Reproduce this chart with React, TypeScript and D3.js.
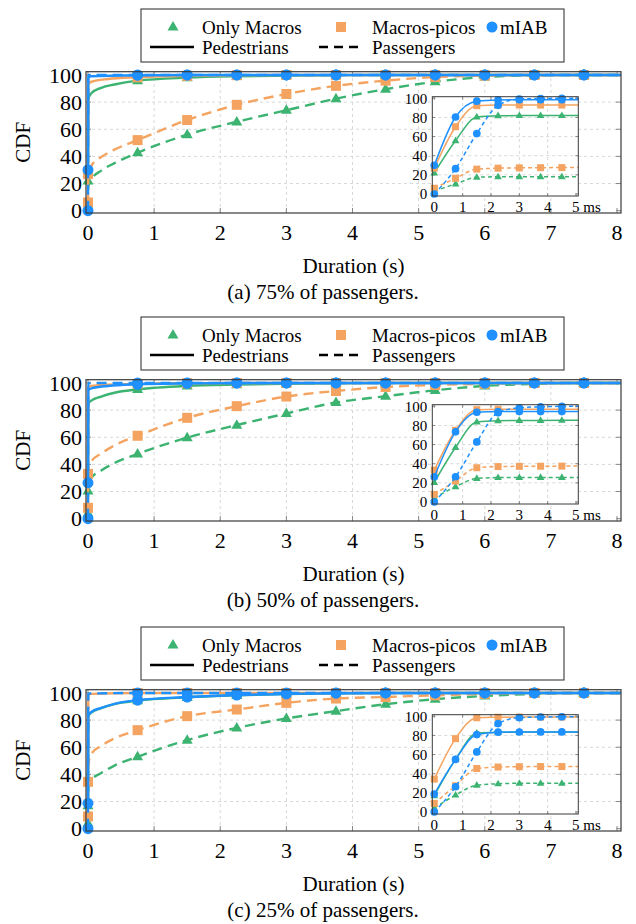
import React from 'react';
import * as d3 from 'd3';

type Pt = [number, number];

// ---------- tick / category data ----------
const markerTimesMain = [0, 0.75, 1.5, 2.25, 3, 3.75, 4.5, 5.25, 6, 6.75, 7.5];
const markerTimesInset = [0, 0.75, 1.5, 2.25, 3, 3.75, 4.5];
const mainXTicks = [0, 1, 2, 3, 4, 5, 6, 7, 8];
const mainYTicks = [0, 20, 40, 60, 80, 100];
const insetXTicks = [0, 1, 2, 3, 4, 5];
const insetXUnit = 'ms';
const insetYTicks = [0, 20, 40, 60, 80, 100];
const systems = ['Only Macros', 'Macros-picos', 'mIAB'];
const scenarios = ['Pedestrians', 'Passengers'];
const captions = ['(a) 75% of passengers.', '(b) 50% of passengers.', '(c) 25% of passengers.'];
const xLabel = 'Duration (s)';
const yLabel = 'CDF';

// ---------- (a) 75% passengers : main (s) ----------
const aMacrosPed: Pt[] = [[0, 22], [0.005, 82], [0.05, 86.5], [0.2, 90.5], [0.4, 93], [0.75, 95.8], [1.5, 98], [2.25, 99], [3, 99.5], [3.75, 99.8], [4.5, 100], [5.25, 100], [6, 100], [6.75, 100], [7.5, 100], [8.06, 100]];
const aMacrosPass: Pt[] = [[0, 3], [0.005, 18], [0.05, 23], [0.2, 29.5], [0.4, 35], [0.75, 42.7], [1.5, 56], [2.25, 65.5], [3, 74], [3.75, 82.5], [4.5, 89.5], [5.25, 95], [6, 98.5], [6.75, 99.7], [7.5, 100], [8.06, 100]];
const aPicosPed: Pt[] = [[0, 27], [0.005, 93], [0.05, 95], [0.3, 97], [0.75, 98.3], [1.5, 99.3], [2.25, 99.8], [3, 100], [3.75, 100], [4.5, 100], [5.25, 100], [6, 100], [6.75, 100], [7.5, 100], [8.06, 100]];
const aPicosPass: Pt[] = [[0, 6], [0.005, 27.5], [0.05, 33], [0.2, 39.5], [0.4, 45], [0.75, 52], [1.5, 66.8], [2.25, 78], [3, 86], [3.75, 92], [4.5, 95.8], [5.25, 98.5], [6, 99.5], [6.75, 100], [7.5, 100], [8.06, 100]];
const aMiabPed: Pt[] = [[0, 30], [0.005, 98.5], [0.05, 99], [0.75, 99.8], [1.5, 100], [2.25, 100], [3, 100], [3.75, 100], [4.5, 100], [5.25, 100], [6, 100], [6.75, 100], [7.5, 100], [8.06, 100]];
const aMiabPass: Pt[] = [[0, 0], [0.005, 100], [0.75, 100], [1.5, 100], [2.25, 100], [3, 100], [3.75, 100], [4.5, 100], [5.25, 100], [6, 100], [6.75, 100], [7.5, 100], [8.06, 100]];
// ---------- (a) inset (ms) ----------
const aInMacrosPed: Pt[] = [[0, 22], [0.75, 55.7], [1.5, 80.5], [2.25, 81.8], [3, 82], [3.75, 82], [4.5, 82], [5.08, 82]];
const aInMacrosPass: Pt[] = [[0, 3], [0.75, 10.5], [1.5, 17.5], [2.25, 18], [3, 18], [3.75, 18], [4.5, 18], [5.08, 18]];
const aInPicosPed: Pt[] = [[0, 27], [0.75, 70.3], [1.5, 92.3], [2.25, 93], [3, 93], [3.75, 93], [4.5, 93], [5.08, 93]];
const aInPicosPass: Pt[] = [[0, 6], [0.75, 16.4], [1.5, 26], [2.25, 27], [3, 27.3], [3.75, 27.5], [4.5, 27.6], [5.08, 27.6]];
const aInMiabPed: Pt[] = [[0, 30], [0.75, 80.5], [1.5, 97], [2.25, 98.3], [3, 98.5], [3.75, 98.5], [4.5, 98.5], [5.08, 98.5]];
const aInMiabPass: Pt[] = [[0, 0], [0.75, 26.5], [1.5, 63.2], [2.25, 92.7], [3, 99.3], [3.75, 99.8], [4.5, 100], [5.08, 100]];

// ---------- (b) 50% passengers : main (s) ----------
const bMacrosPed: Pt[] = [[0, 20.5], [0.005, 85], [0.05, 87], [0.2, 90], [0.4, 92.8], [0.75, 95.2], [1.5, 97.8], [2.25, 98.8], [3, 99.4], [3.75, 99.8], [4.5, 100], [5.25, 100], [6, 100], [6.75, 100], [7.5, 100], [8.06, 100]];
const bMacrosPass: Pt[] = [[0, 4], [0.005, 25.5], [0.05, 30], [0.2, 35.5], [0.4, 41], [0.75, 47.7], [1.5, 59.7], [2.25, 69], [3, 77.5], [3.75, 85.6], [4.5, 90.2], [5.25, 94.6], [6, 97.8], [6.75, 99.3], [7.5, 100], [8.06, 100]];
const bPicosPed: Pt[] = [[0, 33], [0.005, 97], [0.05, 97.8], [0.75, 99.3], [1.5, 99.8], [2.25, 100], [3, 100], [3.75, 100], [4.5, 100], [5.25, 100], [6, 100], [6.75, 100], [7.5, 100], [8.06, 100]];
const bPicosPass: Pt[] = [[0, 8], [0.005, 37.5], [0.05, 42], [0.2, 48], [0.4, 54], [0.75, 61.1], [1.5, 74.3], [2.25, 82.9], [3, 90], [3.75, 94.1], [4.5, 97], [5.25, 98.5], [6, 99.4], [6.75, 100], [7.5, 100], [8.06, 100]];
const bMiabPed: Pt[] = [[0, 26.4], [0.005, 94.5], [0.05, 96], [0.3, 97.8], [0.75, 99], [1.5, 99.7], [2.25, 100], [3, 100], [3.75, 100], [4.5, 100], [5.25, 100], [6, 100], [6.75, 100], [7.5, 100], [8.06, 100]];
const bMiabPass: Pt[] = [[0, 0], [0.005, 100], [0.75, 100], [1.5, 100], [2.25, 100], [3, 100], [3.75, 100], [4.5, 100], [5.25, 100], [6, 100], [6.75, 100], [7.5, 100], [8.06, 100]];
// ---------- (b) inset (ms) ----------
const bInMacrosPed: Pt[] = [[0, 20.5], [0.75, 57], [1.5, 83.7], [2.25, 85], [3, 85.2], [3.75, 85.3], [4.5, 85.4], [5.08, 85.4]];
const bInMacrosPass: Pt[] = [[0, 4], [0.75, 16], [1.5, 24.6], [2.25, 25.5], [3, 25.6], [3.75, 25.7], [4.5, 25.7], [5.08, 25.7]];
const bInPicosPed: Pt[] = [[0, 33.3], [0.75, 75], [1.5, 96.5], [2.25, 97], [3, 97], [3.75, 97], [4.5, 97], [5.08, 97]];
const bInPicosPass: Pt[] = [[0, 8], [0.75, 21.9], [1.5, 35.8], [2.25, 37], [3, 37.3], [3.75, 37.4], [4.5, 37.5], [5.08, 37.5]];
const bInMiabPed: Pt[] = [[0, 26.4], [0.75, 73.3], [1.5, 93.8], [2.25, 94.5], [3, 94.5], [3.75, 94.5], [4.5, 94.5], [5.08, 94.5]];
const bInMiabPass: Pt[] = [[0, 0], [0.75, 26.4], [1.5, 62.8], [2.25, 93.4], [3, 98.5], [3.75, 99.5], [4.5, 100], [5.08, 100]];

// ---------- (c) 25% passengers : main (s) ----------
const cMacrosPed: Pt[] = [[0, 17], [0.005, 83], [0.05, 85.5], [0.2, 88.8], [0.4, 91.8], [0.75, 94.3], [1.5, 96.8], [2.25, 98.3], [3, 99.2], [3.75, 99.7], [4.5, 100], [5.25, 100], [6, 100], [6.75, 100], [7.5, 100], [8.06, 100]];
const cMacrosPass: Pt[] = [[0, 4], [0.005, 30], [0.05, 36], [0.2, 41], [0.4, 46.5], [0.75, 53], [1.5, 65.3], [2.25, 74.3], [3, 81.2], [3.75, 86.6], [4.5, 91.7], [5.25, 95.4], [6, 97.8], [6.75, 99.3], [7.5, 100], [8.06, 100]];
const cPicosPed: Pt[] = [[0, 34.5], [0.005, 99], [0.05, 99.3], [0.75, 100], [1.5, 100], [2.25, 100], [3, 100], [3.75, 100], [4.5, 100], [5.25, 100], [6, 100], [6.75, 100], [7.5, 100], [8.06, 100]];
const cPicosPass: Pt[] = [[0, 9], [0.005, 47.5], [0.05, 55], [0.2, 61], [0.4, 66.5], [0.75, 72.6], [1.5, 82.9], [2.25, 87.8], [3, 92.7], [3.75, 95.9], [4.5, 97], [5.25, 98.3], [6, 99.3], [6.75, 100], [7.5, 100], [8.06, 100]];
const cMiabPed: Pt[] = [[0, 18.7], [0.005, 83.5], [0.05, 86], [0.2, 89], [0.4, 92], [0.75, 94.7], [1.5, 97], [2.25, 98.5], [3, 99.3], [3.75, 99.8], [4.5, 100], [5.25, 100], [6, 100], [6.75, 100], [7.5, 100], [8.06, 100]];
const cMiabPass: Pt[] = [[0, 0], [0.005, 99.5], [0.75, 100], [1.5, 100], [2.25, 100], [3, 100], [3.75, 100], [4.5, 100], [5.25, 100], [6, 100], [6.75, 100], [7.5, 100], [8.06, 100]];
// ---------- (c) inset (ms) ----------
const cInMacrosPed: Pt[] = [[0, 17], [0.75, 55], [1.5, 82.5], [2.25, 83.3], [3, 83.5], [3.75, 83.5], [4.5, 83.5], [5.08, 83.5]];
const cInMacrosPass: Pt[] = [[0, 4], [0.75, 17.7], [1.5, 28], [2.25, 29.5], [3, 30], [3.75, 30], [4.5, 30], [5.08, 30]];
const cInPicosPed: Pt[] = [[0, 34.4], [0.75, 76.7], [1.5, 98.5], [2.25, 99], [3, 99.2], [3.75, 99.2], [4.5, 99.2], [5.08, 99.2]];
const cInPicosPass: Pt[] = [[0, 9], [0.75, 27.4], [1.5, 45.5], [2.25, 47], [3, 47.3], [3.75, 47.5], [4.5, 47.5], [5.08, 47.5]];
const cInMiabPed: Pt[] = [[0, 18.7], [0.75, 54.9], [1.5, 80.9], [2.25, 83.4], [3, 83.6], [3.75, 83.7], [4.5, 83.7], [5.08, 83.7]];
const cInMiabPass: Pt[] = [[0, 0], [0.75, 26.4], [1.5, 62.8], [2.25, 92.4], [3, 98.6], [3.75, 99.3], [4.5, 99.5], [5.08, 99.5]];

const panels = [
  { main: [aMacrosPed, aMacrosPass, aPicosPed, aPicosPass, aMiabPed, aMiabPass], inset: [aInMacrosPed, aInMacrosPass, aInPicosPed, aInPicosPass, aInMiabPed, aInMiabPass] },
  { main: [bMacrosPed, bMacrosPass, bPicosPed, bPicosPass, bMiabPed, bMiabPass], inset: [bInMacrosPed, bInMacrosPass, bInPicosPed, bInPicosPass, bInMiabPed, bInMiabPass] },
  { main: [cMacrosPed, cMacrosPass, cPicosPed, cPicosPass, cMiabPed, cMiabPass], inset: [cInMacrosPed, cInMacrosPass, cInPicosPed, cInPicosPass, cInMiabPed, cInMiabPass] },
];

// ---------- styles ----------
const COLORS = ['#3cb371', '#f4a460', '#1e90ff'];
const SHAPES = ['triangle', 'square', 'circle'];
const FONT = 'Liberation Serif, Tinos, DejaVu Serif, Times New Roman, serif';
const PANEL_DY = [0, 308, 618];
const FRAME = '#3a3a3a';
const GRID = '#d8d8d8';

function Marker({ shape, x, y, s, color }: { shape: string; x: number; y: number; s: number; color: string }) {
  if (shape === 'circle') return <circle cx={x} cy={y} r={s * 0.55} fill={color} />;
  if (shape === 'square') return <rect x={x - s / 2} y={y - s / 2} width={s} height={s} fill={color} />;
  const h = s * 0.95;
  const w = s * 1.1;
  return <path d={`M${x},${y - h * 0.62} L${x + w / 2},${y + h * 0.38} L${x - w / 2},${y + h * 0.38} Z`} fill={color} />;
}

function Series({ data, xs, ys, idx, markerTimes, lw, dash, ms }: any) {
  const sys = Math.floor(idx / 2);
  const dashed = idx % 2 === 1;
  const line = d3.line<Pt>().x(d => xs(d[0])).y(d => ys(d[1])).curve(d3.curveMonotoneX);
  const marks = (data as Pt[]).filter(d => markerTimes.some((t: number) => Math.abs(t - d[0]) < 1e-9));
  return (
    <g>
      <path d={line(data) || ''} fill="none" stroke={COLORS[sys]} strokeWidth={lw} strokeDasharray={dashed ? dash : undefined} strokeLinejoin="round" />
      {marks.map((d, i) => <Marker key={i} shape={SHAPES[sys]} x={xs(d[0])} y={ys(d[1])} s={ms} color={COLORS[sys]} />)}
    </g>
  );
}

const T = (props: any) => <text {...props} style={{ fontFamily: FONT }} />;

function Panel({ dy, panel, caption }: any) {
  const xs = d3.scaleLinear().domain([-0.03, 8.06]).range([86, 621]);
  const ys = d3.scaleLinear().domain([-1.7, 102.4]).range([213 + dy, 71.7 + dy]);
  const ixs = d3.scaleLinear().domain([-0.07, 5.08]).range([432.3, 578.3]);
  const iys = d3.scaleLinear().domain([-2.1, 101.7]).range([196 + dy, 96.7 + dy]);
  const [x0, x1] = xs.range();
  const [y0, y1] = ys.range();
  const [ix0, ix1] = ixs.range();
  const [iy0, iy1] = iys.range();
  const cx = (x0 + x1) / 2;

  return (
    <g>
      {/* legend */}
      <g>
        <rect x={141} y={9 + dy} width={423} height={53} fill="white" stroke={FRAME} strokeWidth={1.1} />
        {systems.map((s, i) => {
          const mx = [173, 341, 492][i];
          const tx = [202, 372, 500][i];
          return (
            <g key={s}>
              <Marker shape={SHAPES[i]} x={mx} y={27 + dy} s={10} color={COLORS[i]} />
              <T x={tx} y={27 + dy} dy="0.35em" fontSize={19}>{s}</T>
            </g>
          );
        })}
        {scenarios.map((s, i) => {
          const lx = [[150, 194], [319, 360]][i];
          const tx = [202, 372][i];
          return (
            <g key={s}>
              <line x1={lx[0]} x2={lx[1]} y1={47 + dy} y2={47 + dy} stroke="black" strokeWidth={2.4} strokeDasharray={i === 1 ? '9,6' : undefined} />
              <T x={tx} y={47 + dy} dy="0.35em" fontSize={19}>{s}</T>
            </g>
          );
        })}
      </g>

      {/* main grid */}
      {mainXTicks.filter(t => t > 0 && t < 8).map(t => (
        <line key={'gx' + t} x1={xs(t)} x2={xs(t)} y1={y0} y2={y1} stroke={GRID} strokeDasharray="3,3" />
      ))}
      {mainYTicks.filter(t => t > 0 && t < 100).map(t => (
        <line key={'gy' + t} x1={x0} x2={x1} y1={ys(t)} y2={ys(t)} stroke={GRID} strokeDasharray="3,3" />
      ))}
      {/* main ticks */}
      {mainXTicks.map(t => (
        <g key={'tx' + t}>
          <line x1={xs(t)} x2={xs(t)} y1={y0} y2={y0 - 5} stroke="#888" />
          <line x1={xs(t)} x2={xs(t)} y1={y1} y2={y1 + 5} stroke="#888" />
          <T x={xs(t)} y={y0 + 19} dy="0.35em" textAnchor="middle" fontSize={22}>{t}</T>
        </g>
      ))}
      {mainYTicks.map(t => (
        <g key={'ty' + t}>
          <line x1={x0} x2={x0 + 5} y1={ys(t)} y2={ys(t)} stroke="#888" />
          <line x1={x1} x2={x1 - 5} y1={ys(t)} y2={ys(t)} stroke="#888" />
          <T x={x0 - 4} y={ys(t)} dy="0.35em" textAnchor="end" fontSize={22}>{t}</T>
        </g>
      ))}

      {/* main series */}
      {panel.main.map((d: Pt[], i: number) => (
        <Series key={'m' + i} data={d} xs={xs} ys={ys} idx={i} markerTimes={markerTimesMain} lw={2.4} dash="10,6" ms={10} />
      ))}

      {/* inset */}
      <rect x={ix0} y={iy1} width={ix1 - ix0} height={iy0 - iy1} fill="white" />
      {insetXTicks.filter(t => t > 0 && t < 5).map(t => (
        <line key={'igx' + t} x1={ixs(t)} x2={ixs(t)} y1={iy0} y2={iy1} stroke={GRID} strokeDasharray="3,3" />
      ))}
      {insetYTicks.filter(t => t > 0 && t < 100).map(t => (
        <line key={'igy' + t} x1={ix0} x2={ix1} y1={iys(t)} y2={iys(t)} stroke={GRID} strokeDasharray="3,3" />
      ))}
      {insetXTicks.map(t => (
        <g key={'itx' + t}>
          <line x1={ixs(t)} x2={ixs(t)} y1={iy0} y2={iy0 - 3} stroke="#888" />
          <line x1={ixs(t)} x2={ixs(t)} y1={iy1} y2={iy1 + 3} stroke="#888" />
          <T x={t === 5 ? ixs(t) - 4 : ixs(t)} y={iy0 + 11} dy="0.35em" textAnchor={t === 5 ? 'start' : 'middle'} fontSize={15}>
            {t === 5 ? `${t} ${insetXUnit}` : t}
          </T>
        </g>
      ))}
      {insetYTicks.map(t => (
        <g key={'ity' + t}>
          <line x1={ix0} x2={ix0 + 3} y1={iys(t)} y2={iys(t)} stroke="#888" />
          <line x1={ix1} x2={ix1 - 3} y1={iys(t)} y2={iys(t)} stroke="#888" />
          <T x={ix0 - 5} y={iys(t)} dy="0.35em" textAnchor="end" fontSize={15}>{t}</T>
        </g>
      ))}
      {panel.inset.map((d: Pt[], i: number) => (
        <Series key={'i' + i} data={d} xs={ixs} ys={iys} idx={i} markerTimes={markerTimesInset} lw={1.5} dash="4,3" ms={7} />
      ))}
      <rect x={ix0} y={iy1} width={ix1 - ix0} height={iy0 - iy1} fill="none" stroke={FRAME} strokeWidth={1} />

      {/* main frame */}
      <rect x={x0} y={y1} width={x1 - x0} height={y0 - y1} fill="none" stroke={FRAME} strokeWidth={1.2} />

      {/* labels */}
      <T x={cx} y={y0 + 53} dy="0.35em" textAnchor="middle" fontSize={21}>{xLabel}</T>
      <T transform={`translate(23,${(y0 + y1) / 2}) rotate(-90)`} dy="0.35em" textAnchor="middle" fontSize={21}>{yLabel}</T>
      <T x={323} y={y0 + 79} dy="0.35em" textAnchor="middle" fontSize={21}>{caption}</T>
    </g>
  );
}

export default function App() {
  return (
    <svg width={636} height={924} style={{ position: 'absolute', left: 0, top: 0, background: 'white' }}>
      <rect x={0} y={0} width={636} height={924} fill="white" />
      {panels.map((p, i) => (
        <Panel key={i} dy={PANEL_DY[i]} panel={p} caption={captions[i]} />
      ))}
    </svg>
  );
}
